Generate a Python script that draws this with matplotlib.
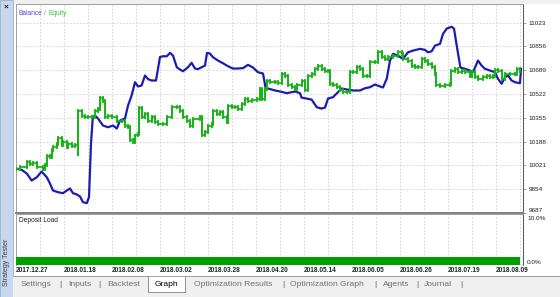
import matplotlib
matplotlib.use('Agg')
import matplotlib.pyplot as plt
from matplotlib.patches import Rectangle
import numpy as np

plt.rcParams['font.family'] = ['Liberation Sans', 'DejaVu Sans']

# ---------------- data ----------------
# x = deal number, values in account currency
bal_x = [0, 1.4, 2.7, 3.9, 5.2, 6.4, 7.7, 8.5, 9.25, 10.5,
         11.75, 12.7, 13.5, 14.25, 15.2, 16, 16.75, 17.7, 18.25, 18.75,
         19.2, 19.75, 20.5, 21.75, 23, 24.25, 25.2, 26, 27.25, 28,
         28.9, 29.75, 30.5, 31.4, 32.25, 33, 33.9, 35, 36, 36.75,
         37.7, 38.5, 39.25, 40.2, 41, 41.75, 43, 43.9, 44.75, 45.5,
         46.4, 47.25, 47.75, 48.5, 49.25, 50.5, 51.75, 52.7, 53.5, 54.25,
         55.5, 56.75, 58, 59.25, 60.5, 61.75, 62.4, 63.5, 64.75, 66,
         67.7, 68.9, 69.75, 71, 71.4, 72.7, 73.9, 75.2, 76.4, 77.25,
         78, 79.25, 80.5, 81.4, 82.7, 84.25, 86, 87.25, 88.5, 89.75,
         91, 91.75, 92.7, 93.5, 94.25, 95.5, 96.75, 98, 99.25, 101,
         102.25, 103, 103.9, 104.75, 106, 106.75, 107.7, 108.9, 109.5, 110.1,
         111.1, 112.25, 113.5, 114.25, 115.5, 116.4, 117.25, 118.5, 119.75, 120.5,
         121.4, 122.25, 123, 123.9, 124.75, 126, 126.25]
bal_v = [9999, 9990, 9964, 9915, 9938, 9978, 9938, 9894, 9845, 9833,
         9826, 9845, 9859, 9826, 9817, 9803, 9763, 9756, 9798, 10175,
         10359, 10371, 10350, 10301, 10289, 10301, 10280, 10336, 10350, 10441,
         10511, 10605, 10575, 10582, 10652, 10627, 10617, 10617, 10782, 10787,
         10787, 10811, 10792, 10710, 10694, 10682, 10710, 10741, 10701, 10697,
         10710, 10722, 10811, 10806, 10780, 10757, 10738, 10722, 10710, 10701,
         10701, 10704, 10727, 10708, 10675, 10666, 10564, 10557, 10547, 10540,
         10528, 10535, 10540, 10528, 10497, 10490, 10483, 10429, 10420, 10427,
         10490, 10500, 10535, 10561, 10554, 10547, 10547, 10563, 10570, 10589,
         10575, 10568, 10631, 10757, 10804, 10792, 10769, 10815, 10827, 10839,
         10832, 10815, 10822, 10862, 10874, 10944, 10982, 10994, 10982, 10876,
         10708, 10699, 10687, 10675, 10757, 10722, 10699, 10687, 10675, 10629,
         10594, 10640, 10652, 10617, 10605, 10598, 10699]

eq_x = [0, 1, 2.7, 3.5, 4.25, 5.2, 6.75, 7.25, 7.7, 8.5,
        8.9, 9.25, 10.2, 10.5, 11.4, 11.75, 12.7, 13, 13.9, 14.75,
        15.5, 15.6, 16.4, 17.25, 18, 18.9, 19.75, 20.5, 21, 21.75,
        22.25, 23, 23.9, 25.2, 26.4, 27.25, 28, 28.5, 29.25, 29.75,
        30.5, 30.75, 31.4, 32.25, 33, 33.9, 34.75, 35.5, 36.75, 37.7,
        38.9, 40.2, 41, 41.75, 42.7, 43.5, 44.25, 46, 46.4, 47.25,
        48, 48.9, 49.25, 50.2, 51, 51.75, 52.7, 53, 53.9, 54.75,
        55.5, 56.4, 57.25, 58, 58.9, 60.2, 61, 61.4, 62.25, 62.7,
        63.5, 64.75, 65.5, 66.4, 67.25, 68, 68.9, 69.75, 70.2, 71.4,
        72.25, 73, 73.9, 74.75, 75.5, 76.4, 77.25, 78, 78.5, 79.25,
        80.2, 81, 81.75, 82.7, 83.5, 84.25, 85.2, 86, 86.75, 87.7,
        88.5, 89.75, 90.5, 91.4, 92.25, 93, 94.25, 95.5, 96.4, 96.75,
        98, 98.9, 99.75, 100.5, 101.4, 102.25, 103, 103.9, 104.75, 104.9,
        106, 107.25, 108.5, 108.7, 109.75, 110.5, 111.4, 112.25, 113.5, 113.9,
        114.75, 115.5, 116.75, 117.7, 118.5, 119.25, 119.75, 120.5, 121.4, 122.25,
        123.5, 124.75, 125.2, 126]
eq_v = [9997, 10013, 10043, 10034, 10036, 10013, 9997, 10027, 10090, 10079,
        10126, 10149, 10173, 10210, 10161, 10184, 10149, 10173, 10154, 10161,
        10102, 10406, 10371, 10359, 10359, 10364, 10406, 10418, 10495, 10476,
        10359, 10371, 10359, 10336, 10336, 10301, 10289, 10196, 10184, 10231,
        10243, 10424, 10364, 10383, 10336, 10359, 10324, 10313, 10313, 10359,
        10429, 10429, 10406, 10359, 10336, 10301, 10348, 10359, 10231, 10254,
        10301, 10313, 10406, 10383, 10394, 10359, 10324, 10441, 10429, 10429,
        10418, 10453, 10488, 10476, 10481, 10488, 10558, 10488, 10558, 10617,
        10605, 10605, 10598, 10664, 10652, 10582, 10570, 10558, 10582, 10617,
        10547, 10652, 10664, 10699, 10722, 10699, 10687, 10687, 10594, 10582,
        10570, 10547, 10535, 10535, 10675, 10675, 10710, 10699, 10652, 10652,
        10745, 10745, 10815, 10780, 10769, 10780, 10792, 10815, 10804, 10769,
        10757, 10722, 10710, 10715, 10769, 10757, 10734, 10710, 10664, 10582,
        10575, 10582, 10594, 10687, 10699, 10675, 10687, 10675, 10652, 10675,
        10640, 10629, 10640, 10652, 10640, 10652, 10692, 10687, 10629, 10664,
        10664, 10664, 10699, 10687]

dep_x = [0, 126]
dep_v = [1.4, 1.4]

y_ticks = [9687, 9854, 10021, 10188, 10355, 10522, 10689, 10856, 11023]
date_pos = [0, 12, 24, 36, 48, 60, 72, 84, 96, 108, 120]
date_labels = ['2017.12.27', '2018.01.18', '2018.02.08', '2018.03.02', '2018.03.28',
               '2018.04.20', '2018.05.14', '2018.06.05', '2018.06.26', '2018.07.19',
               '2018.08.09']
tabs = ['Settings', 'Inputs', 'Backtest', 'Graph', 'Optimization Results',
        'Optimization Graph', 'Agents', 'Journal']

# ---------------- figure ----------------
W, H = 560, 297
fig = plt.figure(figsize=(5.6, 2.97), dpi=100)
fig.patch.set_facecolor('white')


def box(x0, y0, x1, y1):
    return [x0 / W, 1 - y1 / H, (x1 - x0) / W, (y1 - y0) / H]


# background / window chrome in pixel coordinates
bg = fig.add_axes([0, 0, 1, 1], zorder=0)
bg.set_xlim(0, W)
bg.set_ylim(H, 0)
bg.axis('off')
bg.add_patch(Rectangle((0, 0), W, 4, color='#f0f0f0', lw=0))
bg.add_patch(Rectangle((0, 0), 13, H, facecolor='#c8d8ec', edgecolor='#9aaecc', lw=0.6))
bg.text(6, 7, '×', fontsize=6, fontweight='bold', ha='center', va='center', color='#202020')
bg.text(6.5, 262, 'Strategy Tester', rotation=90, fontsize=5, ha='center', va='center',
        color='#303a50')
bg.add_patch(Rectangle((13, 275.5), W - 13, H - 275.5, color='#f0f0f0', lw=0))
bg.plot([13, W], [275.5, 275.5], color='#a0a0a0', lw=0.7)
bg.add_patch(Rectangle((148, 275), 37, 17, facecolor='white', edgecolor='none'))
bg.plot([148, 148, 185, 185], [275.5, 292, 292, 275.5], color='#909090', lw=0.7)

tab_x = [21, 68, 107, 155, 194, 290, 383, 424]
sep_x = [60, 99, 283, 375, 417, 461]
for t, x in zip(tabs, tab_x):
    bg.text(x, 284, t, fontsize=6.1, ha='left', va='center',
            color='black' if t == 'Graph' else '#707070')
for x in sep_x:
    bg.text(x, 284, '|', fontsize=6.1, ha='center', va='center', color='#707070')

# ---------------- main chart ----------------
ax = fig.add_axes(box(16, 4, 523, 213), zorder=2)
ax.set_facecolor('white')
ax.set_xlim(0, 126.75)
ax.set_ylim(9687, 11154)
ax.set_xticks(np.arange(0, 127, 6))
ax.set_xticklabels([])
ax.set_yticks(y_ticks)
ax.yaxis.tick_right()
ax.set_yticklabels([str(v) for v in y_ticks], fontsize=4.6, color='#202020')
ax.get_yticklabels()[0].set_va('bottom')
ax.tick_params(axis='x', length=0)
ax.tick_params(axis='y', length=2, width=0.5, color='#808080', pad=2)
ax.grid(True, ls=(0, (2, 2)), color='#cfcfcf', lw=0.6)
ax.set_axisbelow(True)
for s in ['left', 'top']:
    ax.spines[s].set_color('#a0a0a0')
    ax.spines[s].set_linewidth(0.7)
ax.spines['right'].set_color('#606060')
ax.spines['right'].set_linewidth(0.8)
ax.spines['bottom'].set_color('#808080')
ax.spines['bottom'].set_linewidth(1.4)

ax.plot(bal_x, bal_v, color='#1c1cb0', lw=1.6, solid_joinstyle='round', zorder=3)

ax.step(eq_x, eq_v, where='post', color='#14b414', lw=1.25, zorder=4)
prev = np.r_[eq_v[0], eq_v[:-1]]
lo = np.minimum(prev, eq_v) - 14
hi = np.maximum(prev, eq_v) + 14
ax.vlines(eq_x, lo, hi, color='#14b414', lw=1.25, zorder=4)

ax.text(0.005, 0.955, 'Balance', transform=ax.transAxes, fontsize=4.8, color='#5050c8',
        ha='left', va='center')
ax.text(0.055, 0.955, '/', transform=ax.transAxes, fontsize=4.8, color='#808080',
        ha='left', va='center')
ax.text(0.065, 0.955, 'Equity', transform=ax.transAxes, fontsize=4.8, color='#40c040',
        ha='left', va='center')

# ---------------- deposit load ----------------
dep = fig.add_axes(box(16, 214, 523, 264.5), zorder=1)
dep.set_facecolor('white')
dep.set_xlim(0, 126.75)
dep.set_ylim(0, 10)
dep.set_xticks(np.arange(0, 127, 6), minor=False)
dep.set_xticklabels([date_labels[date_pos.index(p)] if p in date_pos else ''
                     for p in np.arange(0, 127, 6)],
                    fontsize=4.7, fontweight='bold', color='#202020', ha='left')
dep.tick_params(axis='x', length=0, pad=2)
dep.set_yticks([])
dep.grid(True, axis='x', ls=(0, (2, 2)), color='#cfcfcf', lw=0.6)
dep.set_axisbelow(True)
dep.fill_between(dep_x, 0, dep_v, color='#00a000', lw=0, zorder=3)
for s in ['left', 'top', 'bottom']:
    dep.spines[s].set_color('#a0a0a0')
    dep.spines[s].set_linewidth(0.7)
dep.spines['bottom'].set_visible(False)
dep.spines['right'].set_color('#606060')
dep.spines['right'].set_linewidth(0.8)
dep.text(0.005, 0.88, 'Deposit Load', transform=dep.transAxes, fontsize=4.8,
         color='#202020', ha='left', va='center')
dep.text(1.008, 0.91, '10.0%', transform=dep.transAxes, fontsize=4.6, color='#202020',
         ha='left', va='center')
dep.text(1.008, 0.03, '0.0%', transform=dep.transAxes, fontsize=4.6, color='#202020',
         ha='left', va='center')

fig.savefig('out.png', dpi=100)
